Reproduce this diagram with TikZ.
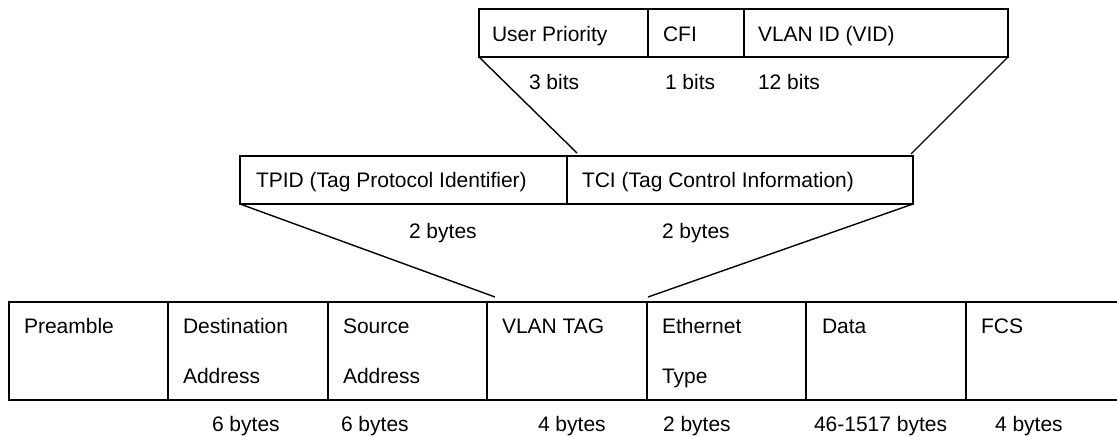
\documentclass[tikz,border=0pt]{standalone}
\usepackage{fontspec}
\setmainfont{Liberation Sans}
\begin{document}
\begin{tikzpicture}[x=1pt,y=-1pt,
  cell/.style={draw, line width=1.8pt, inner sep=0pt, outer sep=0pt, anchor=north west},
  bare/.style={inner sep=0pt, outer sep=0pt, anchor=north west},
  txt/.style={anchor=base west, inner sep=0pt, outer sep=0pt, font=\fontsize{21}{25}\selectfont},
  conn/.style={line width=1.4pt}]
\useasboundingbox (0,0) rectangle (1117,436);
% ---- top box: TCI fields
\node[cell, minimum width=169pt, minimum height=48pt] (up) at (479,9) {};
\node[cell, minimum width=96pt, minimum height=48pt] (cfi) at (648,9) {};
\node[cell, minimum width=264pt, minimum height=48pt] (vid) at (744,9) {};
\node[txt] (upt) at (492,42) {User Priority};
\node[txt] (cfit) at (663,42) {CFI};
\node[txt] (vidt) at (758,42) {VLAN ID (VID)};
\node[txt] (upb) at (529,90) {3 bits};
\node[txt] (cfib) at (665,90) {1 bits};
\node[txt] (vidb) at (758,90) {12 bits};
% ---- middle box: VLAN tag
\node[cell, minimum width=327pt, minimum height=48pt] (tpid) at (240,156) {};
\node[cell, minimum width=346pt, minimum height=48pt] (tci) at (567,156) {};
\node[txt] (tpidt) at (256,187) {TPID (Tag Protocol Identifier)};
\node[txt] (tcit) at (582,187) {TCI (Tag Control Information)};
\node[txt] (tpidb) at (409,238) {2 bytes};
\node[txt] (tcib) at (662,238) {2 bytes};
% ---- bottom box: Ethernet frame
\node[cell, minimum width=159pt, minimum height=98pt] (pre) at (9,302) {};
\node[cell, minimum width=160pt, minimum height=98pt] (dst) at (168,302) {};
\node[cell, minimum width=159pt, minimum height=98pt] (src) at (328,302) {};
\node[cell, minimum width=160pt, minimum height=98pt] (tag) at (487,302) {};
\node[cell, minimum width=159pt, minimum height=98pt] (eth) at (647,302) {};
\node[cell, minimum width=160pt, minimum height=98pt] (data) at (806,302) {};
\node[bare, minimum width=151pt, minimum height=98pt] (fcs) at (966,302) {};
\draw[line width=1.8pt] (fcs.north west) -- (fcs.north east);
\draw[line width=1.8pt] (fcs.south west) -- (fcs.south east);
\node[txt] at (24,333) {Preamble};
\node[txt] at (183,333) {Destination};
\node[txt] at (183,383) {Address};
\node[txt] at (343,333) {Source};
\node[txt] at (343,383) {Address};
\node[txt] at (502,333) {VLAN TAG};
\node[txt] at (662,333) {Ethernet};
\node[txt] at (662,383) {Type};
\node[txt] at (822,333) {Data};
\node[txt] at (981,333) {FCS};
\node[txt] at (212,431) {6 bytes};
\node[txt] at (341,431) {6 bytes};
\node[txt] at (538,431) {4 bytes};
\node[txt] at (663,431) {2 bytes};
\node[txt] at (814,431) {46-1517 bytes};
\node[txt] at (995,431) {4 bytes};
% ---- connectors
\coordinate (tciL) at (577,153);
\coordinate (tciR) at (911,154);
\coordinate (tagL) at (495,297);
\coordinate (tagR) at (648,297);
\draw[conn] (up.south west) -- (tciL);
\draw[conn] (vid.south east) -- (tciR);
\draw[conn] (tpid.south west) -- (tagL);
\draw[conn] (tci.south east) -- (tagR);
\end{tikzpicture}
\end{document}
